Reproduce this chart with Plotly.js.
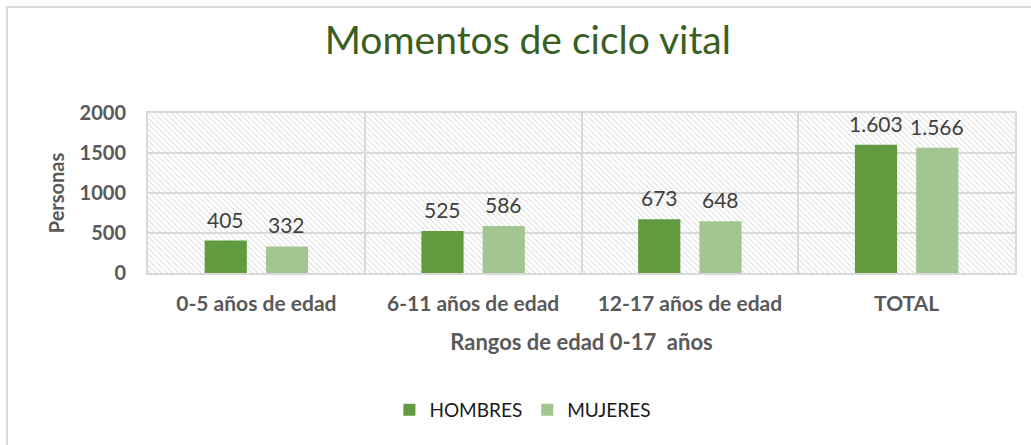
<!DOCTYPE html>
<html>
<head>
<meta charset="utf-8">
<script src="https://cdn.plot.ly/plotly-3.0.1.min.js"></script>
<style>html,body{margin:0;padding:0;background:#fff;}#chart{width:1031px;height:445px;}</style>
</head>
<body>
<div id="chart"></div>
<script>
const categories = ["0-5 años de edad", "6-11 años de edad", "12-17 años de edad", "TOTAL"];
const hombres = [405, 525, 673, 1603];
const mujeres = [332, 586, 648, 1566];
const seriesNames = ["HOMBRES", "MUJERES"];
const yTicks = [0, 500, 1000, 1500, 2000];

const FONT = "Lato, 'Open Sans', sans-serif";
const hatchSvg = '<svg xmlns="http://www.w3.org/2000/svg" width="867" height="160">' +
  '<defs><pattern id="p" width="4" height="4" patternUnits="userSpaceOnUse" patternTransform="rotate(-45)">' +
  '<line x1="0" y1="0" x2="0" y2="4" stroke="#c4c4c4" stroke-width="1.1"/></pattern></defs>' +
  '<rect width="867" height="160" fill="url(#p)"/></svg>';
const hatchUri = 'data:image/svg+xml;base64,' + btoa(hatchSvg);

const traces = [
  {type: "bar", name: seriesNames[0], x: categories, y: hombres,
   marker: {color: "#619a3f"}, hoverinfo: "skip"},
  {type: "bar", name: seriesNames[1], x: categories, y: mujeres,
   marker: {color: "#a2c591"}, hoverinfo: "skip"}
];

const fmt = v => v.toLocaleString("de-DE");
const annotations = [];
[hombres, mujeres].forEach((vals, s) => {
  vals.forEach((v, i) => {
    annotations.push({x: categories[i], y: v, xref: "x", yref: "y", text: fmt(v), showarrow: false,
      xshift: s === 0 ? -30.5 : 30.5, yanchor: "bottom", yshift: 7,
      font: {family: FONT, size: 21, color: "#404040"}});
  });
});

const tickFont = {size: 20, color: "#595959", family: FONT, weight: "bold"};

const layout = {
  width: 1031, height: 445,
  margin: {l: 148, r: 16, t: 113, b: 172, pad: 0},
  paper_bgcolor: "#ffffff",
  plot_bgcolor: "rgba(0,0,0,0)",
  font: {family: FONT, color: "#595959"},
  title: {text: "Momentos de ciclo vital", x: 0.512, xanchor: "center", y: 0.91, yanchor: "middle",
          font: {family: FONT, size: 39, color: "#3a5e23"}},
  barmode: "group",
  bargap: 0.435,
  bargroupgap: 0.311,
  xaxis: {
    type: "category", tickson: "boundaries", showgrid: true, gridcolor: "#d9d9d9", gridwidth: 2,
    showline: true, linecolor: "#d9d9d9", linewidth: 2, mirror: true, ticks: "", zeroline: false,
    ticklabelstandoff: 11,
    tickfont: {size: 21, color: "#595959", family: FONT, weight: "bold"},
    title: {text: "Rangos de edad 0-17  años", standoff: 20,
            font: {size: 22, color: "#595959", family: FONT, weight: "bold"}},
    automargin: false
  },
  yaxis: {
    range: [0, 2000], tickvals: yTicks, showgrid: true, gridcolor: "#d9d9d9", gridwidth: 2,
    showline: true, linecolor: "#d9d9d9", linewidth: 2, mirror: true, zeroline: false, ticks: "",
    ticklabelstandoff: 16,
    tickfont: tickFont,
    title: {text: "Personas", standoff: 10,
            font: {size: 20, color: "#595959", family: FONT, weight: "bold"}},
    automargin: false
  },
  annotations: annotations,
  showlegend: true,
  legend: {orientation: "h", x: 0.4324, xanchor: "center", y: -0.856, yanchor: "middle",
           font: {size: 19, color: "#1a1a1a", family: FONT},
           itemwidth: 30, traceorder: "normal"},
  images: [{source: hatchUri, xref: "paper", yref: "paper", x: 0, y: 1, sizex: 1, sizey: 1,
            sizing: "stretch", layer: "below", xanchor: "left", yanchor: "top"}],
  shapes: [{type: "rect", xref: "paper", yref: "paper", x0: -0.1626, x1: 1.1, y0: -1.3, y1: 1.6625,
            line: {color: "#d9d9d9", width: 2}, fillcolor: "rgba(0,0,0,0)", layer: "below"}]
};

Plotly.newPlot("chart", traces, layout, {displayModeBar: false, staticPlot: true});
</script>
</body>
</html>
